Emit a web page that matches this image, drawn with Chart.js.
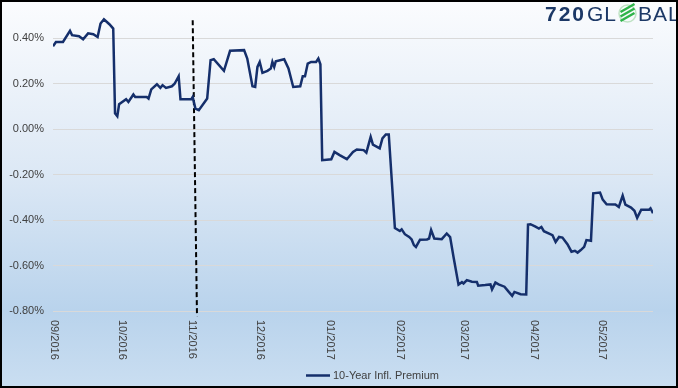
<!DOCTYPE html>
<html>
<head>
<meta charset="utf-8">
<script src="https://cdn.jsdelivr.net/npm/chart.js@4"></script>
<style>
  html, body { margin: 0; padding: 0; background: #fff; }
  #wrap { width: 678px; height: 388px; }
</style>
</head>
<body>
<div id="wrap"><canvas id="premium"></canvas></div>
<script>
// days since 09/01/2016 and 10-yr inflation premium (%)
const days = [
  0, 1.3, 4.4, 7.5, 8.4, 11.5, 13.3, 15.5, 17.8, 19.7,
  21.0, 22.5, 24.9, 26.6, 27.4, 28.4, 29.2, 32.3, 33.3, 35.5,
  36.3, 41.4, 42.2, 43.4, 45.9, 47.4, 48.4, 49.9, 52.5, 53.7,
  55.5, 56.3, 61.1, 61.7, 62.9, 64.4, 68.1, 69.6, 71.0, 75.5,
  78.2, 84.4, 85.8, 88.1, 89.3, 90.3, 91.3, 92.5, 94.7, 96.2,
  96.9, 97.7, 98.4, 102.1, 104.0, 106.1, 109.2, 110.3, 111.3, 112.5,
  114.0, 116.2, 117.2, 118.1, 118.9, 122.9, 124.3, 126.6, 129.8, 132.5,
  134.2, 137.2, 138.4, 140.3, 141.3, 144.3, 145.5, 147.0, 148.3, 151.0,
  153.2, 154.0, 155.4, 157.3, 158.4, 159.4, 160.3, 162.1, 165.2, 166.1,
  167.0, 168.4, 171.7, 173.9, 175.4, 176.9, 179.1, 180.6, 181.3, 182.8,
  185.0, 187.2, 187.8, 190.9, 193.2, 193.9, 195.4, 196.8, 199.4, 201.3,
  202.8, 203.8, 206.5, 209.0, 209.8, 210.9, 213.1, 214.6, 215.7, 216.8,
  220.6, 222.0, 223.5, 225.0, 227.2, 229.0, 230.5, 231.7, 233.1, 234.6,
  235.6, 237.6, 238.6, 241.6, 242.8, 244.5, 248.4, 249.9, 251.6, 252.8,
  255.3, 256.8, 258.0, 259.8, 263.3, 263.9, 265.0
];
const premium = [
  0.365, 0.384, 0.384, 0.433, 0.414, 0.409, 0.396, 0.422, 0.418, 0.406,
  0.465, 0.484, 0.462, 0.443, 0.070, 0.057, 0.110, 0.132, 0.120, 0.153,
  0.142, 0.142, 0.135, 0.175, 0.198, 0.182, 0.194, 0.182, 0.189, 0.200,
  0.233, 0.132, 0.132, 0.142, 0.091, 0.084, 0.135, 0.304, 0.308, 0.257,
  0.345, 0.348, 0.311, 0.189, 0.186, 0.274, 0.296, 0.248, 0.257, 0.267,
  0.296, 0.274, 0.299, 0.308, 0.267, 0.186, 0.189, 0.233, 0.233, 0.289,
  0.296, 0.296, 0.311, 0.286, -0.136, -0.132, -0.100, -0.114, -0.132, -0.100,
  -0.089, -0.092, -0.103, -0.034, -0.068, -0.084, -0.040, -0.023, -0.023, -0.435,
  -0.448, -0.441, -0.462, -0.474, -0.485, -0.510, -0.518, -0.486, -0.485, -0.481,
  -0.444, -0.481, -0.484, -0.459, -0.475, -0.562, -0.684, -0.673, -0.679, -0.664,
  -0.671, -0.672, -0.689, -0.686, -0.683, -0.705, -0.675, -0.683, -0.693, -0.716,
  -0.733, -0.716, -0.726, -0.727, -0.420, -0.418, -0.429, -0.437, -0.430, -0.449,
  -0.466, -0.496, -0.474, -0.477, -0.506, -0.539, -0.535, -0.543, -0.532, -0.518,
  -0.488, -0.491, -0.282, -0.279, -0.310, -0.330, -0.331, -0.342, -0.292, -0.332,
  -0.345, -0.359, -0.390, -0.354, -0.354, -0.348, -0.370
];
// dashed marker line (top / bottom ends)
const markerDays = [61.7, 63.6];
const markerValues = [0.48, -0.823];

const monthDays = [0, 30, 61, 91, 122, 153, 181, 212, 242];
const monthLabels = ['09/2016', '10/2016', '11/2016', '12/2016', '01/2017', '02/2017', '03/2017', '04/2017', '05/2017'];
const yTicks = [-0.8, -0.6, -0.4, -0.2, 0, 0.2, 0.4];

const seriesName = '10-Year Infl. Premium';
const navy = '#152f6b';
const FONT = '"Liberation Sans", Arial, sans-serif';

const decor = {
  id: 'decor',
  beforeDraw(chart) {
    const c = chart.ctx, w = chart.width, h = chart.height;
    const g = c.createLinearGradient(0, 0, 0, h);
    g.addColorStop(0, '#fbfcfe');
    g.addColorStop(0.45, '#dce8f5');
    g.addColorStop(0.8, '#b9d3ec');
    g.addColorStop(1, '#cadef1');
    c.save();
    c.fillStyle = g;
    c.fillRect(0, 0, w, h);
    c.restore();
  },
  afterDraw(chart) {
    const c = chart.ctx;
    const xs = chart.scales.x;
    c.save();
    // rotated month labels
    c.fillStyle = '#404040';
    c.font = '11px ' + FONT;
    c.textAlign = 'left';
    c.textBaseline = 'middle';
    monthDays.forEach((d, i) => {
      c.save();
      c.translate(xs.getPixelForValue(d) + 1, chart.chartArea.bottom + 9);
      c.rotate(Math.PI / 2);
      c.fillText(monthLabels[i], 0, 0);
      c.restore();
    });
    // legend
    c.strokeStyle = navy;
    c.lineWidth = 2.5;
    c.beginPath();
    c.moveTo(306, 375.5);
    c.lineTo(330, 375.5);
    c.stroke();
    c.fillStyle = '#404040';
    c.fillText(seriesName, 333, 376);
    // logo
    c.fillStyle = '#1c3866';
    c.textBaseline = 'alphabetic';
    c.letterSpacing = '2px';
    c.font = 'bold 21px ' + FONT;
    c.fillText('720', 545, 21);
    c.font = '21px ' + FONT;
    c.letterSpacing = '1px';
    c.fillText('GL', 587, 21);
    c.fillText('BAL', 638, 21);
    c.letterSpacing = '0px';
    // globe
    const gx = 627.5, gy = 13.5, r = 8.5;
    c.strokeStyle = '#bfe3c4';
    c.lineWidth = 1.5;
    c.beginPath();
    c.arc(gx, gy, r, 0, Math.PI * 2);
    c.stroke();
    c.strokeStyle = '#2fb44a';
    c.lineWidth = 2.4;
    [-4.5, 0, 4.5].forEach(o => {
      c.beginPath();
      c.moveTo(gx - 7, gy + o + 3);
      c.quadraticCurveTo(gx, gy + o - 1, gx + 7, gy + o - 5);
      c.stroke();
    });
    // frame
    c.strokeStyle = '#000';
    c.lineWidth = 2;
    c.strokeRect(1, 1, chart.width - 2, chart.height - 2);
    c.restore();
  }
};

new Chart(document.getElementById('premium'), {
  type: 'line',
  data: {
    datasets: [{
      label: seriesName,
      data: days.map((d, i) => ({ x: d, y: premium[i] })),
      borderColor: navy,
      borderWidth: 2.5,
      pointRadius: 0,
      tension: 0
    }, {
      label: 'marker',
      data: markerDays.map((d, i) => ({ x: d, y: markerValues[i] })),
      borderColor: '#000',
      borderWidth: 2,
      borderDash: [5, 3],
      pointRadius: 0,
      clip: false
    }]
  },
  options: {
    responsive: true,
    maintainAspectRatio: false,
    animation: false,
    layout: { padding: { top: 15.6, right: 25, bottom: 77, left: 0 } },
    plugins: { legend: { display: false }, tooltip: { enabled: false } },
    scales: {
      x: {
        type: 'linear',
        min: 0,
        max: 265,
        display: false
      },
      y: {
        min: -0.8,
        max: 0.5,
        afterBuildTicks: s => { s.ticks = yTicks.map(v => ({ value: v })); },
        afterFit: s => { s.width = 53; },
        border: { display: false },
        grid: { color: '#d9d9d9', lineWidth: 1, drawTicks: false },
        ticks: {
          padding: 9,
          color: '#404040',
          font: { family: FONT, size: 11 },
          callback: v => v.toFixed(2) + '%'
        }
      }
    }
  },
  plugins: [decor]
});
</script>
</body>
</html>
